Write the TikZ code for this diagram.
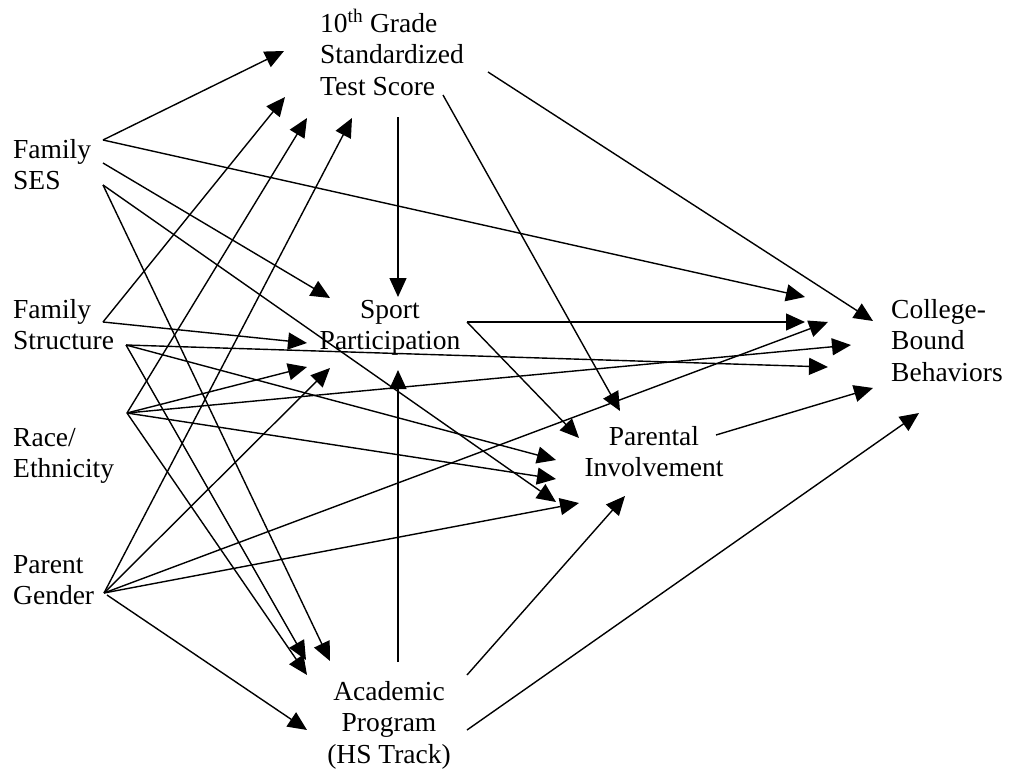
\documentclass[tikz,border=0pt]{standalone}
\usepackage{fontspec}
\setmainfont{Liberation Serif}
\usetikzlibrary{arrows.meta}
\begin{document}
\begin{tikzpicture}[x=1pt,y=-1pt,
  lbl/.style={inner sep=0pt, font=\fontsize{27.5}{31.5}\selectfont},
  arr/.style={-{Triangle[length=19pt,width=17pt]}, line width=1.4pt, line join=miter}]
\useasboundingbox (0,0) rectangle (1013,774);

% ---- labels ----
\node[lbl, anchor=base west] (test) at (320,32) {\begin{tabular}[t]{@{}l@{}}10\textsuperscript{th} Grade\\Standardized\\Test Score\end{tabular}};
\node[lbl, anchor=base west] (ses) at (13,158) {\begin{tabular}[t]{@{}l@{}}Family\\SES\end{tabular}};
\node[lbl, anchor=base west] (fs) at (13,318) {\begin{tabular}[t]{@{}l@{}}Family\\Structure\end{tabular}};
\node[lbl, anchor=base west] (race) at (13,446) {\begin{tabular}[t]{@{}l@{}}Race/\\Ethnicity\end{tabular}};
\node[lbl, anchor=base west] (gender) at (13,573) {\begin{tabular}[t]{@{}l@{}}Parent\\Gender\end{tabular}};
\node[lbl, anchor=base] (sport) at (390,318) {\begin{tabular}[t]{@{}c@{}}Sport\\Participation\end{tabular}};
\node[lbl, anchor=base] (par) at (654,445) {\begin{tabular}[t]{@{}c@{}}Parental\\Involvement\end{tabular}};
\node[lbl, anchor=base] (acad) at (389,700) {\begin{tabular}[t]{@{}c@{}}Academic\\Program\\(HS Track)\end{tabular}};
\node[lbl, anchor=base west] (coll) at (891,318) {\begin{tabular}[t]{@{}l@{}}College-\\Bound\\Behaviors\end{tabular}};

% ---- start points ----
\coordinate (s1) at (103,140);
\coordinate (s2) at (103,163);
\coordinate (s3) at (103,185);
\coordinate (f1) at (103,322);
\coordinate (f2) at (126,345);
\coordinate (r1) at (127,413);
\coordinate (g1) at (104,593);
\coordinate (g2) at (107,595);
\coordinate (t1) at (398,117);
\coordinate (t2) at (443,95);
\coordinate (t3) at (488,72);
\coordinate (p1) at (467,322);
\coordinate (v1) at (716,435);
\coordinate (a1) at (398,662);
\coordinate (a2) at (467,675);
\coordinate (a3) at (467,730);

% ---- end points ----
\coordinate (ts1) at (284,51);
\coordinate (ts2) at (285,97);
\coordinate (ts3) at (307,118);
\coordinate (ts4) at (352,118);
\coordinate (sp1) at (330,298);
\coordinate (sp2) at (307,343);
\coordinate (sp3) at (307,367);
\coordinate (sp4) at (330,368);
\coordinate (sp5) at (398,297);
\coordinate (sp6) at (398,370);
\coordinate (pi1) at (620,411);
\coordinate (pi2) at (579,438);
\coordinate (pi3) at (556,460);
\coordinate (pi4) at (556,479);
\coordinate (pi5) at (556,502);
\coordinate (pi6) at (579,503);
\coordinate (pi7) at (625,496);
\coordinate (ai1) at (306,660);
\coordinate (ai2) at (307,675);
\coordinate (ai3) at (330,661);
\coordinate (ai4) at (307,730);
\coordinate (c1) at (805,297);
\coordinate (c2) at (873,321);
\coordinate (c3) at (805,322);
\coordinate (c4) at (828,322);
\coordinate (c5) at (851,345);
\coordinate (c6) at (828,367);
\coordinate (c7) at (873,388);
\coordinate (c8) at (919,413);

% ---- Family SES ----
\draw[arr] (s1) -- (ts1);
\draw[arr] (s1) -- (c1);
\draw[arr] (s2) -- (sp1);
\draw[arr] (s3) -- (pi5);
\draw[arr] (s3) -- (ai3);
% ---- Family Structure ----
\draw[arr] (f1) -- (ts2);
\draw[arr] (f1) -- (sp2);
\draw[arr] (f2) -- (c6);
\draw[arr] (f2) -- (pi3);
\draw[arr] (f2) -- (ai1);
% ---- Race/Ethnicity ----
\draw[arr] (r1) -- (ts3);
\draw[arr] (r1) -- (sp3);
\draw[arr] (r1) -- (c5);
\draw[arr] (r1) -- (pi4);
\draw[arr] (r1) -- (ai2);
% ---- Parent Gender ----
\draw[arr] (g1) -- (ts4);
\draw[arr] (g1) -- (sp4);
\draw[arr] (g1) -- (c4);
\draw[arr] (g1) -- (pi6);
\draw[arr] (g2) -- (ai4);
% ---- Test score ----
\draw[arr] (t1) -- (sp5);
\draw[arr] (t2) -- (pi1);
\draw[arr] (t3) -- (c2);
% ---- Sport ----
\draw[arr] (p1) -- (c3);
\draw[arr] (p1) -- (pi2);
% ---- Parental ----
\draw[arr] (v1) -- (c7);
% ---- Academic ----
\draw[arr] (a1) -- (sp6);
\draw[arr] (a2) -- (pi7);
\draw[arr] (a3) -- (c8);
\end{tikzpicture}
\end{document}
